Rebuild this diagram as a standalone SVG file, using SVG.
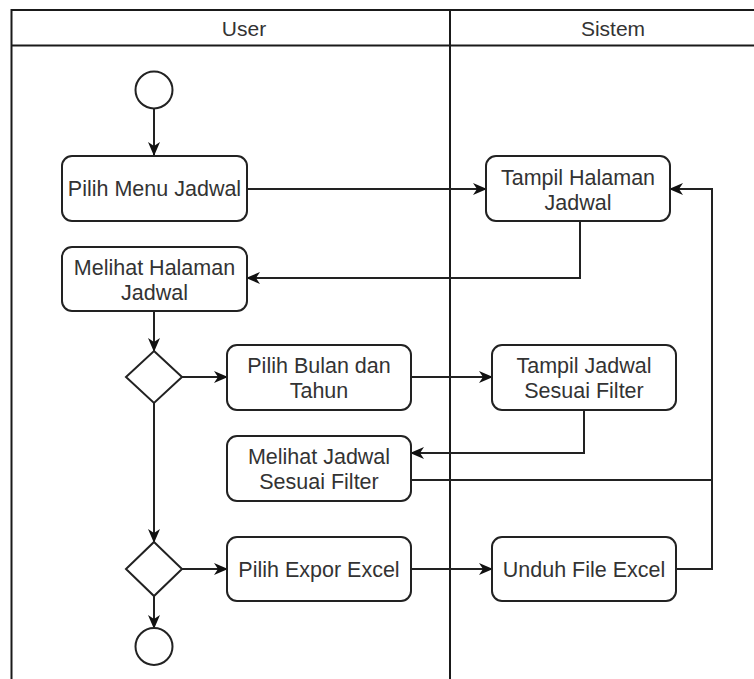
<svg xmlns="http://www.w3.org/2000/svg" width="754" height="679" viewBox="0 0 754 679">
<defs>
<style>
.lane{fill:none;stroke:#1a1a1a;stroke-width:2}
.box{fill:#fff;stroke:#222;stroke-width:2}
.txt{font-family:"Liberation Sans",Arial,sans-serif;font-size:21.5px;fill:#333;text-anchor:middle}
.hdr{font-family:"Liberation Sans",Arial,sans-serif;font-size:21px;fill:#333;text-anchor:middle}
.edge{fill:none;stroke:#222;stroke-width:2}
</style>
<marker id="arr" viewBox="0 0 14 12" refX="13" refY="6" markerUnits="userSpaceOnUse" markerWidth="14" markerHeight="12" orient="auto">
<path d="M0,0 L14,6 L0,12 L4,6 Z" fill="#111"/>
</marker>
</defs>
<rect width="754" height="679" fill="#fff"/>
<g id="swimlanes">
<path class="lane" d="M760,10 H11.5 V679"/>
<path class="lane" d="M11.5,45.5 H760"/>
<path class="lane" d="M450,10 V679"/>
<text class="hdr" x="244" y="35.5">User</text>
<text class="hdr" x="613" y="35.5">Sistem</text>
</g>
<g id="connectors">
<path class="edge" d="M154,108.5 V155" marker-end="url(#arr)"/>
<path class="edge" d="M247,189 H486" marker-end="url(#arr)"/>
<path class="edge" d="M580,221 V278 H247" marker-end="url(#arr)"/>
<path class="edge" d="M154,311 V351" marker-end="url(#arr)"/>
<path class="edge" d="M182,377 H227" marker-end="url(#arr)"/>
<path class="edge" d="M411,377 H492" marker-end="url(#arr)"/>
<path class="edge" d="M584,410 V453 H411" marker-end="url(#arr)"/>
<path class="edge" d="M411,480 H712 V189 H670" marker-end="url(#arr)"/>
<path class="edge" d="M676,569 H712 V480"/>
<path class="edge" d="M154,403 V542" marker-end="url(#arr)"/>
<path class="edge" d="M182,569 H227" marker-end="url(#arr)"/>
<path class="edge" d="M411,569 H492" marker-end="url(#arr)"/>
<path class="edge" d="M154,596 V628" marker-end="url(#arr)"/>
</g>
<g id="start">
<circle class="box" cx="154" cy="90" r="18.5"/>
</g>
<g id="pilih-menu-jadwal">
<rect class="box" x="62" y="156" width="185" height="65" rx="10"/>
<text class="txt" x="154.5" y="196">Pilih Menu Jadwal</text>
</g>
<g id="tampil-halaman-jadwal">
<rect class="box" x="486" y="156" width="184" height="65" rx="10"/>
<text class="txt" x="578" y="185">Tampil Halaman</text>
<text class="txt" x="578" y="210">Jadwal</text>
</g>
<g id="melihat-halaman-jadwal">
<rect class="box" x="62" y="247" width="185" height="64" rx="10"/>
<text class="txt" x="154.5" y="275">Melihat Halaman</text>
<text class="txt" x="154.5" y="300">Jadwal</text>
</g>
<g id="decision-1">
<path class="box" d="M154,351 L182,377 L154,403 L126,377 Z"/>
</g>
<g id="pilih-bulan-tahun">
<rect class="box" x="227" y="345" width="184" height="65" rx="10"/>
<text class="txt" x="319" y="373">Pilih Bulan dan</text>
<text class="txt" x="319" y="398">Tahun</text>
</g>
<g id="tampil-jadwal-filter">
<rect class="box" x="492" y="345" width="184" height="65" rx="10"/>
<text class="txt" x="584" y="373">Tampil Jadwal</text>
<text class="txt" x="584" y="398">Sesuai Filter</text>
</g>
<g id="melihat-jadwal-filter">
<rect class="box" x="227" y="436" width="184" height="65" rx="10"/>
<text class="txt" x="319" y="464">Melihat Jadwal</text>
<text class="txt" x="319" y="489">Sesuai Filter</text>
</g>
<g id="decision-2">
<path class="box" d="M154,542 L182,569 L154,596 L126,569 Z"/>
</g>
<g id="pilih-expor-excel">
<rect class="box" x="227" y="537" width="184" height="64" rx="10"/>
<text class="txt" x="319" y="576.5">Pilih Expor Excel</text>
</g>
<g id="unduh-file-excel">
<rect class="box" x="492" y="537" width="184" height="64" rx="10"/>
<text class="txt" x="584" y="576.5">Unduh File Excel</text>
</g>
<g id="end">
<circle class="box" cx="154" cy="646.5" r="18.5"/>
</g>
</svg>
